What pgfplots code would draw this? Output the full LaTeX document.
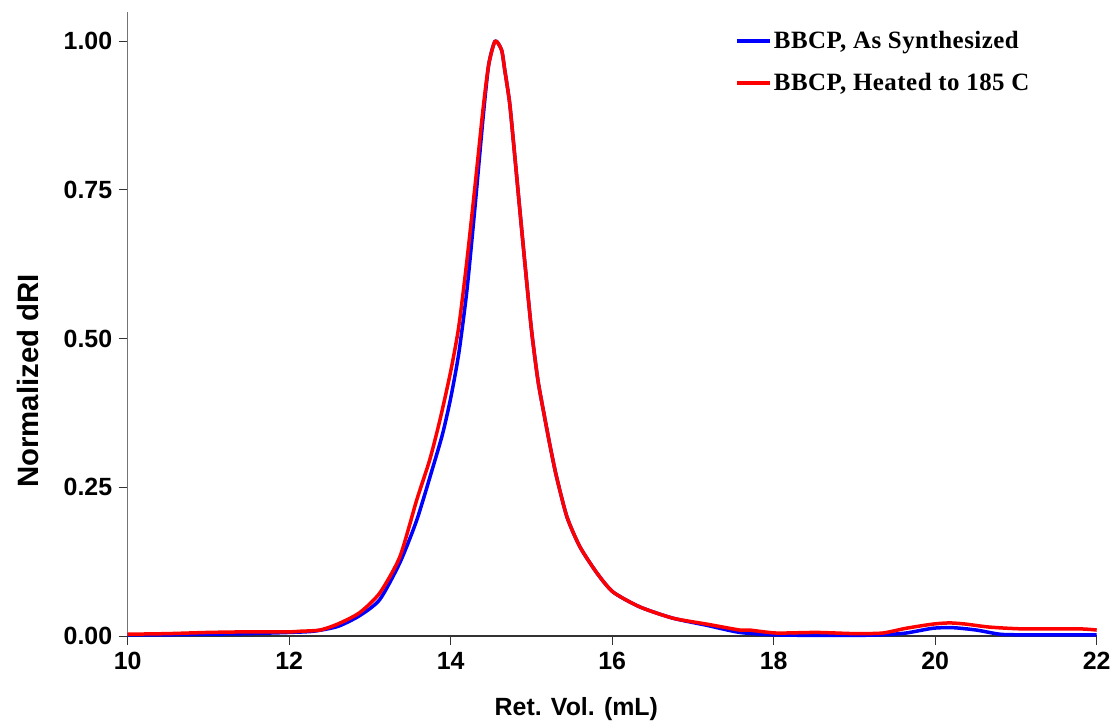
\documentclass[border=0pt]{standalone}
\usepackage{pgfplots}
\pgfplotsset{compat=1.18}
\usepackage{fontspec}
\setmainfont{Liberation Sans}
\newfontfamily\legfont[LetterSpace=2]{Liberation Serif}
\begin{document}
\begin{tikzpicture}
\begin{axis}[
  scale only axis,
  width=969bp, height=624bp,
  xmin=10, xmax=22, ymin=0, ymax=1.049,
  axis lines*=left,
  axis line style={line width=1.2bp},
  x axis line style={black!80},
  y axis line style={black!55},
  tick align=outside,
  major tick length=9bp,
  tick style={line width=1bp, black!80},
  xtick={10,12,...,22},
  ytick={0,0.25,0.5,0.75,1},
  minor tick num=0,
  /pgf/number format/assume math mode=true,
  yticklabel={\pgfmathprintnumber[fixed,fixed zerofill,precision=2]{\tick}},
  yticklabel style={font=\fontsize{25}{29}\selectfont\bfseries, xshift=-3bp},
  xticklabel style={font=\fontsize{25}{29}\selectfont\bfseries, yshift=-4bp},
  xlabel={Ret. Vol. (mL)},
  ylabel={Normalized dRI},
  x label style={font=\fontsize{25}{30}\selectfont\bfseries, at={(axis description cs:0.463,-0.117)}, anchor=center},
  y label style={font=\fontsize{29.5}{34}\selectfont\bfseries, at={(axis description cs:-0.103,0.409)}, anchor=center},
  legend style={at={(axis description cs:0.627,0.972)}, anchor=north west, draw=none, fill=none,
    font=\legfont\fontsize{25}{29}\selectfont\bfseries, row sep=19bp, inner sep=0pt,
    /tikz/every even column/.append style={column sep=3bp}},
  legend cell align=left,
  legend image code/.code={\draw[#1] (0bp,0bp) -- (33bp,0bp);},
  clip=false,
]
\addplot[blue, line width=3.5bp, line join=round, smooth, tension=0.4] coordinates {
(10,0.002) (10.5,0.002) (11,0.003) (11.5,0.004) (12,0.006) (12.3,0.008) (12.6,0.016)
(12.87,0.034) (13.12,0.061) (13.37,0.123) (13.58,0.195) (13.78,0.284) (13.90,0.34)
(14.00,0.40) (14.10,0.475) (14.20,0.58) (14.30,0.72) (14.40,0.87) (14.47,0.96)
(14.55,1.0) (14.63,0.985) (14.67,0.951) (14.73,0.896) (14.79,0.812)
(14.85,0.725) (14.92,0.625) (15.00,0.515) (15.08,0.43) (15.16,0.37) (15.23,0.32)
(15.31,0.268) (15.44,0.2) (15.60,0.15) (15.81,0.106)
(16.01,0.074) (16.34,0.049) (16.75,0.03) (17.17,0.018) (17.58,0.006) (18.0,0.002)
(18.5,0.001) (19.0,0.001) (19.35,0.002) (19.64,0.005) (19.97,0.013) (20.22,0.014)
(20.51,0.01) (20.8,0.003) (21.08,0.002) (22,0.002)
};
\addlegendentry{BBCP, As Synthesized}
\addplot[red, line width=3.5bp, line join=round, smooth, tension=0.4] coordinates {
(10,0.003) (10.5,0.004) (11,0.006) (11.5,0.007) (12,0.007) (12.14,0.008) (12.38,0.01)
(12.6,0.02) (12.87,0.039) (13.12,0.072) (13.37,0.133) (13.58,0.229) (13.74,0.296)
(13.87,0.365) (14.00,0.445) (14.10,0.52) (14.20,0.63) (14.30,0.755) (14.40,0.885)
(14.47,0.96) (14.55,1.0) (14.63,0.985)
(14.67,0.951) (14.73,0.896) (14.79,0.812) (14.85,0.725) (14.92,0.625)
(15.00,0.515) (15.08,0.43) (15.16,0.37) (15.23,0.32) (15.31,0.268)
(15.44,0.2) (15.60,0.15) (15.81,0.106) (16.01,0.074) (16.34,0.049) (16.75,0.03)
(17.17,0.02) (17.58,0.01) (17.7,0.01) (18.03,0.005) (18.53,0.006) (19.0,0.004)
(19.35,0.005) (19.64,0.013) (19.97,0.02) (20.18,0.022) (20.38,0.02) (20.67,0.015)
(21.08,0.012) (21.78,0.012) (22,0.01)
};
\addlegendentry{BBCP, Heated to 185 C}
\end{axis}
\pgfresetboundingbox
\path (-127.7bp,-89bp) rectangle (986.3bp,636bp);
\end{tikzpicture}
\end{document}
